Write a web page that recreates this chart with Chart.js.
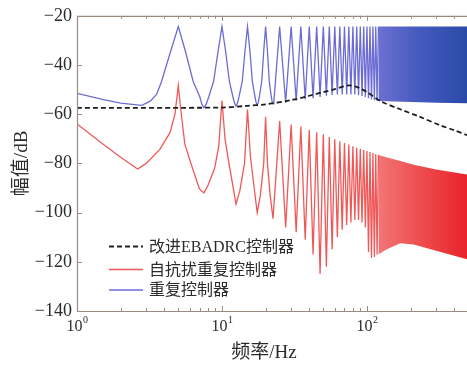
<!DOCTYPE html>
<html>
<head>
<meta charset="utf-8">
<script src="https://cdn.jsdelivr.net/npm/chart.js@4/dist/chart.umd.min.js"></script>
<style>
  html, body { margin: 0; padding: 0; background: #fff; }
  canvas { display: block; }
</style>
</head>
<body>
<canvas id="bode_canvas" width="467" height="366"></canvas>
<script>
// ---- data (frequency in Hz, magnitude in dB) ----
const legendLabels = ["改进EBADRC控制器", "自抗扰重复控制器", "重复控制器"];
const xTickDecades = [1, 10, 100];
const yTicks = [-20, -40, -60, -80, -100, -120, -140];

// improved EBADRC (dashed)
const ebFreq = [1, 10, 15, 20, 30, 40, 50, 60, 70, 76, 85, 90, 100, 125, 170, 230, 320, 400, 490];
const ebDb   = [-57.4, -57.3, -56.6, -56, -54.3, -52.5, -51, -49.8, -48.6, -48.3, -48.9, -49.6, -51, -54.8, -58, -61, -64.5, -66.5, -68.5];

// repetitive controller (blue)
const rcFreq = [1, 1.5, 2, 2.8, 3.2, 3.54, 3.83, 4.42, 5, 5.6, 6.33, 7.04, 7.25, 7.5, 7.8, 8.1, 8.75, 9.4, 10, 10.6, 11.25, 11.9, 12.2, 12.5, 12.8,
  13.1, 13.8, 14.4, 15, 15.6, 16.2, 16.9, 17.2, 17.5, 17.8, 18.1, 18.8, 19.4, 20, 20.6, 21.2, 21.9, 22.2, 22.5, 22.8,
  25, 27.5, 30, 32.5, 35, 37.5, 40, 42.5, 45, 47.5, 50, 52.5, 55, 57.5, 60, 62.5, 65, 67.5, 70, 72.5,
  75, 77.5, 80, 82.5, 85, 87.5, 90, 92.5, 95, 97.5, 100, 102.5, 105, 107.5, 110, 112.5, 115, 117.5, 120];
const rcDb = [-51.5, -54, -55.5, -56.4, -54.7, -52, -46.7, -34.5, -24.4, -34.5, -46.7, -53, -55.8, -57.4, -55.8, -53, -46.7, -34.5, -24.4, -34.5, -46.7, -53, -55.5, -56.8, -55.5,
  -53, -46.7, -34.5, -24.4, -34.5, -46.7, -53, -55.2, -56.3, -55.2, -53, -46.7, -34.5, -24.4, -34.5, -46.7, -53, -55, -55.8, -55,
  -24.4, -55.3, -24.4, -54.5, -24.4, -54, -24.4, -53.5, -24.4, -53, -24.4, -52.5, -24.4, -52.2, -24.4, -52, -24.4, -52, -24.4, -52,
  -24.4, -52, -24.4, -52, -24.4, -52.3, -24.4, -52.6, -24.4, -53, -24.4, -53.5, -24.4, -54, -24.4, -54.3, -24.4, -54.6, -24.4];
// dense part of the blue curve (envelope)
const rcBandFreq = [120, 200, 300, 490];
const rcBandTop  = [-24.4, -24.4, -24.4, -24.4];
const rcBandLow  = [-54.6, -55, -55.3, -55.5];

// ADRC repetitive controller (red)
const adFreq = [1, 1.5, 2, 2.62, 3.0, 3.73, 4.38, 4.74, 5, 5.18, 5.55, 6.34, 7.0, 7.5,
  8.0, 8.9, 9.5, 10, 10.5, 11.1, 11.8, 12.5,
  13.3, 14.3, 15, 15.7, 16.6, 17.5,
  18.4, 19.4, 20, 20.6, 21.5, 22.5,
  25, 27.5, 30, 32.5, 35, 37.5, 40, 42.5, 45, 47.5, 50, 52.5, 55, 57.5, 60, 62.5, 65, 67.5, 70, 72.5,
  75, 77.5, 80, 82.5, 85, 87.5, 90, 92.5, 95, 97.5, 100, 102.5, 105, 107.5, 110, 112.5, 115, 117.5, 120];
const adDb = [-64, -72, -77.5, -82.3, -80, -74.3, -67.5, -60, -48.3, -57.4, -72.3, -83, -90.4, -92,
  -89, -82, -73, -54.5, -70, -79, -88, -96.5,
  -91, -80, -58, -77, -89, -100,
  -93, -80, -61, -80, -93, -102.5,
  -62.8, -106, -64.2, -108, -65, -111, -66.3, -117, -67.3, -125, -68.2, -122, -69.3, -115, -70.2, -110, -71, -107, -71.7, -105,
  -72.3, -104, -73, -103, -73.6, -103, -74.1, -104, -74.6, -106, -75, -116, -75.4, -118.5, -75.8, -118, -76.2, -117, -76.6];
const adBandFreq = [120, 136, 170, 210, 300, 490];
const adBandTop  = [-76.6, -77.5, -79, -80.5, -82.5, -84.5];
const adBandLow  = [-117, -115, -112.5, -113, -115.5, -119];

// ---- helpers ----
const pts = (fs, vs) => fs.map((f, i) => ({x: f, y: vs[i]}));
const serif = "'Liberation Serif', 'Times New Roman', 'Noto Sans CJK SC', serif";
const cjk = "'Liberation Serif', 'Noto Sans CJK SC', serif";
const textColour = "#2b2b2b";
const axisColour = "#9a8c82";

const blueLine = "rgb(108,108,212)";
const redLine = "rgb(240,88,88)";

function bandGradient(startFreq, stops) {
  return (ctx) => {
    const chart = ctx.chart;
    const area = chart.chartArea;
    if (!area) return stops[stops.length - 1][1];
    const x0 = chart.scales.x.getPixelForValue(startFreq);
    const g = chart.ctx.createLinearGradient(x0, 0, area.right, 0);
    stops.forEach(s => g.addColorStop(s[0], s[1]));
    return g;
  };
}

// frame, tick marks, x labels, x title and the legend
const framePlugin = {
  id: "frame",
  afterDraw(chart) {
    const ctx = chart.ctx;
    const a = chart.chartArea;
    const xs = chart.scales.x;
    const ys = chart.scales.y;
    ctx.save();
    ctx.strokeStyle = axisColour;
    ctx.lineWidth = 1.2;
    ctx.beginPath();
    ctx.moveTo(a.right + 2, a.top + 0.5);
    ctx.lineTo(a.left + 0.5, a.top + 0.5);
    ctx.lineTo(a.left + 0.5, a.bottom + 0.5);
    ctx.lineTo(a.right + 2, a.bottom + 0.5);
    ctx.stroke();

    // log ticks, inward
    ctx.lineWidth = 1;
    ctx.beginPath();
    for (let d = 1; d <= 100; d *= 10) {
      for (let m = 1; m <= 9; m++) {
        const v = d * m;
        if (v > xs.max) break;
        const px = Math.round(xs.getPixelForValue(v)) + 0.5;
        const len = m === 1 ? 5 : 3;
        ctx.moveTo(px, a.bottom);
        ctx.lineTo(px, a.bottom - len);
        ctx.moveTo(px, a.top);
        ctx.lineTo(px, a.top + len);
      }
    }
    yTicks.forEach(v => {
      const py = Math.round(ys.getPixelForValue(v)) + 0.5;
      ctx.moveTo(a.left, py);
      ctx.lineTo(a.left + 5, py);
    });
    ctx.stroke();

    // x tick labels 10^n
    ctx.fillStyle = textColour;
    ctx.textBaseline = "alphabetic";
    xTickDecades.forEach((v, i) => {
      const px = xs.getPixelForValue(v);
      ctx.font = "16px " + serif;
      const w1 = ctx.measureText("10").width;
      ctx.font = "10px " + serif;
      const w2 = ctx.measureText(String(i)).width;
      const x0 = px - (w1 + w2) / 2;
      ctx.font = "16px " + serif;
      ctx.textAlign = "left";
      ctx.fillText("10", x0, 331);
      ctx.font = "10px " + serif;
      ctx.fillText(String(i), x0 + w1 + 0.5, 323);
    });

    // x axis title
    ctx.font = "19px " + cjk;
    ctx.textAlign = "center";
    ctx.textBaseline = "middle";
    ctx.fillText("频率/Hz", 264, 353);

    // legend inside the plot
    const rows = [
      {y: 246.5, colour: "#222", dash: [5, 3], width: 1.8},
      {y: 269.5, colour: redLine, dash: [], width: 1.4},
      {y: 290, colour: blueLine, dash: [], width: 1.4}
    ];
    ctx.font = "16px " + cjk;
    ctx.textAlign = "left";
    rows.forEach((r, i) => {
      ctx.beginPath();
      ctx.setLineDash(r.dash);
      ctx.strokeStyle = r.colour;
      ctx.lineWidth = r.width;
      ctx.moveTo(109, r.y);
      ctx.lineTo(143, r.y);
      ctx.stroke();
      ctx.setLineDash([]);
      ctx.fillStyle = textColour;
      ctx.fillText(legendLabels[i], 149, r.y + 1);
    });
    ctx.restore();
  }
};

const config_bode = {
  type: "line",
  data: {
    datasets: [
      {
        label: legendLabels[0],
        data: pts(ebFreq, ebDb),
        borderColor: "#1e1e1e",
        borderWidth: 1.8,
        borderDash: [5, 3],
        pointRadius: 0,
        tension: 0.3,
        fill: false,
        order: 0
      },
      {
        label: legendLabels[2],
        data: pts(rcFreq, rcDb),
        borderColor: blueLine,
        borderWidth: 1.3,
        pointRadius: 0,
        tension: 0,
        fill: false,
        order: 1
      },
      {
        label: "rc band top",
        data: pts(rcBandFreq, rcBandTop),
        borderColor: "rgba(0,0,0,0)",
        borderWidth: 0,
        pointRadius: 0,
        fill: false,
        order: 2
      },
      {
        label: "rc band low",
        data: pts(rcBandFreq, rcBandLow),
        borderColor: "rgba(0,0,0,0)",
        borderWidth: 0,
        pointRadius: 0,
        fill: "-1",
        backgroundColor: bandGradient(rcBandFreq[0], [[0, "rgb(108,112,210)"], [0.45, "rgb(70,90,190)"], [1, "rgb(42,74,168)"]]),
        order: 2
      },
      {
        label: legendLabels[1],
        data: pts(adFreq, adDb),
        borderColor: redLine,
        borderWidth: 1.3,
        pointRadius: 0,
        tension: 0,
        fill: false,
        order: 3
      },
      {
        label: "ad band top",
        data: pts(adBandFreq, adBandTop),
        borderColor: "rgba(0,0,0,0)",
        borderWidth: 0,
        pointRadius: 0,
        fill: false,
        order: 4
      },
      {
        label: "ad band low",
        data: pts(adBandFreq, adBandLow),
        borderColor: "rgba(0,0,0,0)",
        borderWidth: 0,
        pointRadius: 0,
        fill: "-1",
        backgroundColor: bandGradient(adBandFreq[0], [[0, "rgb(242,118,118)"], [0.45, "rgb(238,78,80)"], [1, "rgb(232,36,42)"]]),
        order: 4
      }
    ]
  },
  options: {
    responsive: false,
    animation: false,
    devicePixelRatio: 1,
    layout: { padding: { top: 14, right: 0, left: 0, bottom: 0 } },
    scales: {
      x: {
        type: "logarithmic",
        min: 1,
        max: 490,
        grid: { display: false, drawTicks: false },
        border: { display: false },
        ticks: { display: false },
        afterFit: (scale) => { scale.height = 55; }
      },
      y: {
        min: -140,
        max: -20,
        grid: { display: false, drawTicks: false },
        border: { display: false },
        afterFit: (scale) => { scale.width = 77; },
        afterBuildTicks: (scale) => { scale.ticks = yTicks.map(v => ({value: v})); },
        ticks: {
          color: textColour,
          padding: 5,
          font: { family: serif, size: 18 },
          callback: (v) => String(v).replace("-", "\u2212")
        },
        title: {
          display: true,
          text: "幅值/dB",
          color: textColour,
          font: { family: cjk, size: 19 },
          padding: { top: 11, bottom: 0 }
        }
      }
    },
    plugins: {
      legend: { display: false },
      tooltip: { enabled: false }
    }
  },
  plugins: [framePlugin]
};

const ctx_bode = document.getElementById("bode_canvas").getContext("2d");
new Chart(ctx_bode, config_bode);
</script>
</body>
</html>
